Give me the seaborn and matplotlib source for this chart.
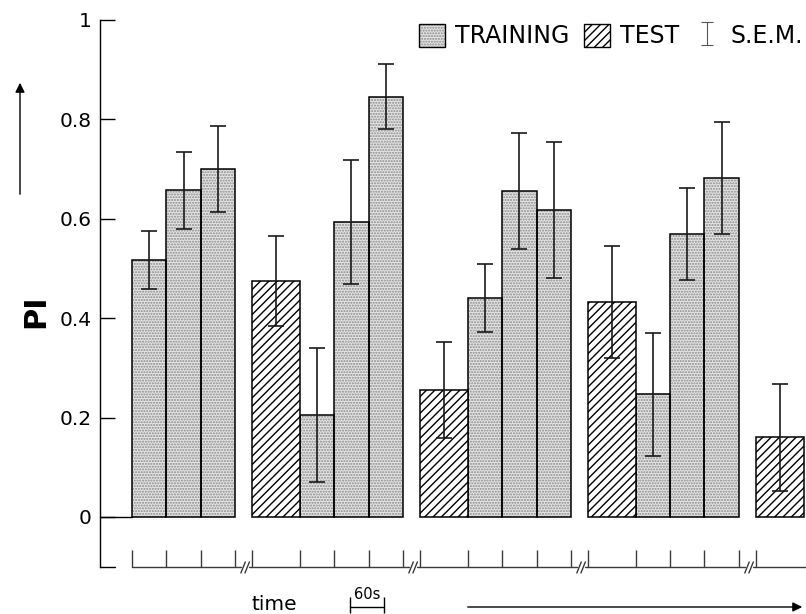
import numpy as np
import matplotlib.pyplot as plt
import seaborn as sns
from matplotlib.patches import Patch

# Datos: indice PI de cada periodo, en orden temporal
fases = ["TRAINING", "TRAINING", "TRAINING",
         "TEST", "TRAINING", "TRAINING", "TRAINING",
         "TEST", "TRAINING", "TRAINING", "TRAINING",
         "TEST", "TRAINING", "TRAINING", "TRAINING",
         "TEST"]
pi_valores = [0.517, 0.657, 0.700,
              0.475, 0.205, 0.594, 0.846,
              0.255, 0.441, 0.656, 0.617,
              0.433, 0.247, 0.569, 0.682,
              0.160]
pi_sem = [0.059, 0.077, 0.087,
          0.091, 0.135, 0.125, 0.065,
          0.097, 0.069, 0.117, 0.137,
          0.113, 0.124, 0.093, 0.112,
          0.107]
y_ticks = [0, 0.2, 0.4, 0.6, 0.8, 1]
y_etiquetas = ["0", "0.2", "0.4", "0.6", "0.8", "1"]
leyenda = ["TRAINING", "TEST", "S.E.M."]

# Geometria (unidad = un periodo de entrenamiento de 60 s)
ANCHO_TRAIN = 1.0
ANCHO_TEST = 1.42
HUECO = 0.5
XLIM = (-0.946, 19.733)
YLIM = (-0.1952, 1.0402)
Y_LINEA_TIEMPO = -0.1
Y_MARCA_TIEMPO = -0.066

GRIS_FONDO = "#e4e4e4"
GRIS_PUNTOS = "#8a8a8a"
PUNTOS = "......"
RAYAS = "////"

sns.set_theme(style="ticks")
plt.rcParams['font.family'] = ['DejaVu Sans']
plt.rcParams['text.color'] = 'black'
plt.rcParams['hatch.linewidth'] = 1.0

# posiciones de las barras a partir de la secuencia de fases
anchos = [ANCHO_TEST if f == "TEST" else ANCHO_TRAIN for f in fases]
izq = []
x = 0.0
for i, f in enumerate(fases):
    if f == "TEST" and i > 0:
        x += HUECO
    izq.append(x)
    x += anchos[i]
centros = [l + w / 2 for l, w in zip(izq, anchos)]

# bloques (cada uno empieza con un TEST, salvo el primero)
bloques = []
inicio = izq[0]
for i in range(1, len(fases)):
    if fases[i] == "TEST":
        bloques.append((inicio, izq[i - 1] + anchos[i - 1]))
        inicio = izq[i]
bloques.append((inicio, izq[-1] + anchos[-1]))

fig = plt.figure(figsize=(8.06, 6.14), dpi=100)
ax = fig.add_axes([100 / 806, 0, 706 / 806, 1])

idx_train = [i for i, f in enumerate(fases) if f == "TRAINING"]
idx_test = [i for i, f in enumerate(fases) if f == "TEST"]
x_train = [centros[i] for i in idx_train]
x_test = [centros[i] for i in idx_test]
y_train = [pi_valores[i] for i in idx_train]
y_test = [pi_valores[i] for i in idx_test]
sep_train = np.min(np.diff(x_train))
sep_test = np.min(np.diff(x_test))

# barras de entrenamiento: fondo punteado + contorno negro
sns.barplot(x=x_train, y=y_train, native_scale=True, orient="x",
            width=ANCHO_TRAIN / sep_train, color=GRIS_FONDO, saturation=1,
            edgecolor=GRIS_PUNTOS, linewidth=0, hatch=PUNTOS,
            errorbar=None, ax=ax)
sns.barplot(x=x_train, y=y_train, native_scale=True, orient="x",
            width=ANCHO_TRAIN / sep_train, color="black", fill=False,
            linewidth=1.1, errorbar=None, ax=ax)
# barras de test: rayado diagonal
sns.barplot(x=x_test, y=y_test, native_scale=True, orient="x",
            width=ANCHO_TEST / sep_test, color="white", saturation=1,
            edgecolor="black", linewidth=1.1, hatch=RAYAS,
            errorbar=None, ax=ax)

ax.errorbar(centros, pi_valores, yerr=pi_sem, fmt="none", ecolor="#1a1a1a",
            elinewidth=1.2, capsize=6, capthick=1.2, zorder=4)

# linea base en 0 desde el eje hasta la primera barra
ax.plot([XLIM[0], izq[0]], [0, 0], color="black", lw=1, clip_on=False)

# eje Y
ax.set_xlim(*XLIM)
ax.set_ylim(*YLIM)
for lado in ["top", "right", "bottom"]:
    ax.spines[lado].set_visible(False)
ax.spines["left"].set_bounds(Y_LINEA_TIEMPO, 1)
ax.spines["left"].set_color("black")
ax.spines["left"].set_linewidth(1)
ax.set_xticks([])
ax.set_yticks(y_ticks)
ax.set_yticklabels(y_etiquetas)
ax.tick_params(axis="y", direction="in", length=11, width=1, pad=6,
               labelsize=14.5, color="black", labelcolor="black")
ax.plot([XLIM[0], XLIM[0] + 0.44], [Y_LINEA_TIEMPO, Y_LINEA_TIEMPO],
        color="black", lw=1, clip_on=False)
ax.set_ylabel("PI", fontsize=22, fontweight="semibold", color="black")
ax.yaxis.set_label_coords(-0.071, 0.4935)

# linea de tiempo con cortes //
color_t = "#3a3a3a"
for k, (a, b) in enumerate(bloques):
    marcas = [l for l in izq if a - 1e-9 <= l < b]
    ultimo = k == len(bloques) - 1
    if not ultimo:
        marcas.append(b)
    ax.vlines(marcas, Y_LINEA_TIEMPO, Y_MARCA_TIEMPO, color=color_t, lw=1)
    fin = XLIM[1] if ultimo else (b + bloques[k + 1][0]) / 2 - 0.07
    ax.plot([a, fin], [Y_LINEA_TIEMPO] * 2, color=color_t, lw=1, clip_on=False)
    if k > 0:
        medio = (bloques[k - 1][1] + a) / 2
        ax.plot([medio + 0.18, a], [Y_LINEA_TIEMPO] * 2, color=color_t, lw=1)
        for d in [-0.07, 0.05]:
            ax.plot([medio + d, medio + d + 0.13], [-0.1127, -0.0905],
                    color=color_t, lw=1)

# escala de 60 s y rotulo "time"
x_esc = 6.38
ax.plot([x_esc, x_esc + ANCHO_TRAIN], [-0.181, -0.181], color="black", lw=1)
ax.vlines([x_esc, x_esc + ANCHO_TRAIN], -0.193, -0.161, color="black", lw=1)
ax.text(x_esc + ANCHO_TRAIN / 2, -0.166, "60s", ha="center", va="baseline",
        fontsize=10.5, color="black")
ax.text(4.15, -0.187, "time", ha="center", va="baseline", fontsize=14.5,
        color="black")

# flechas
flecha = dict(arrowstyle="-|>", color="black", lw=1, mutation_scale=14)
ax.annotate("", xy=(20, 534), xytext=(20, 417), xycoords="figure pixels",
            textcoords="figure pixels", arrowprops=flecha)
ax.annotate("", xy=(805, 7), xytext=(465, 7), xycoords="figure pixels",
            textcoords="figure pixels", arrowprops=flecha)

# leyenda
h_train = (Patch(facecolor=GRIS_FONDO, edgecolor=GRIS_PUNTOS, hatch=PUNTOS, lw=0),
           Patch(facecolor="none", edgecolor="black", lw=1))
h_test = Patch(facecolor="white", edgecolor="black", hatch=RAYAS, lw=1)
h_sem = ax.errorbar([np.nan], [np.nan], yerr=[0.1], fmt="none", ecolor="#555555",
                    elinewidth=0.8, capsize=4, capthick=0.8)
fig.legend([h_train, h_test, h_sem], leyenda, ncol=3, loc="upper right",
           bbox_to_anchor=(803 / 806, 1 - 24 / 614), frameon=False, fontsize=17,
           handlelength=1.1, handleheight=1.1, handletextpad=0.45,
           columnspacing=0.6, borderpad=0, borderaxespad=0,
           labelcolor="black")

fig.savefig("out.png", dpi=100)
